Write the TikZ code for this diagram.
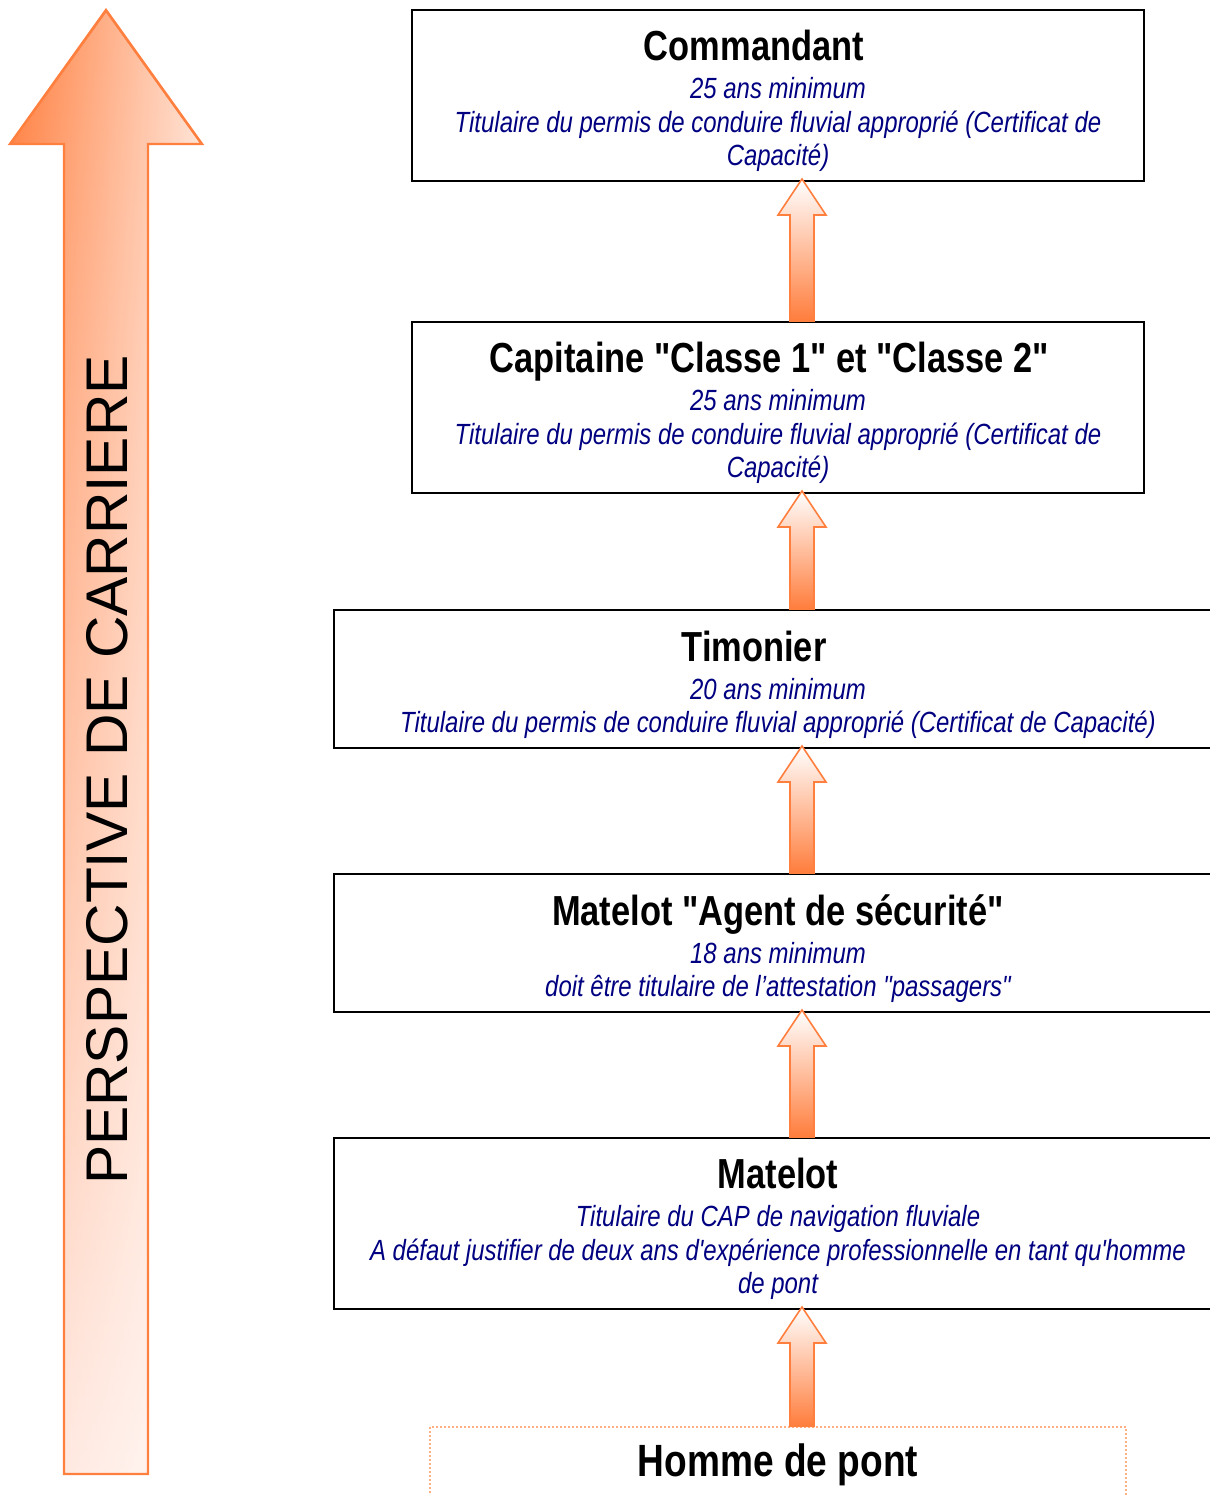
\documentclass[tikz,border=0pt]{standalone}
\usepackage{fontspec}
\setmainfont{Liberation Sans}
\newfontfamily\narrowfont{Liberation Sans}[FakeStretch=0.82]
\usetikzlibrary{positioning, calc, fadings}

\definecolor{orangeline}{RGB}{255,127,63}
\definecolor{orangefill}{RGB}{255,125,60}
\definecolor{paleorange}{RGB}{255,228,218}
\definecolor{dotorange}{RGB}{255,175,130}
\definecolor{navytext}{RGB}{0,0,128}

\newcommand\posttitle{\color{black}\upshape\bfseries\fontsize{21}{25}\selectfont\rule{0pt}{21pt}}

\tikzfading[name=fadeleft, left color=transparent!100, right color=transparent!22]

\tikzset{
  poste/.style={draw, line width=1pt, inner sep=0pt, align=center, text=navytext,
    font=\narrowfont\itshape\fontsize{14.6}{16.75}\selectfont},
  upshade/.style={top color=white, middle color=orangefill!30!white, bottom color=orangefill,
    draw=orangeline, line width=0.8pt},
}

\begin{document}
\begin{tikzpicture}[x=0.5pt, y=-0.5pt]

\useasboundingbox (0,0) rectangle (1210,1495);
\clip (0,0) rectangle (1210,1495);

% big arrow
\shade[top color=orangefill, bottom color=paleorange,
  postaction={fill=white, path fading=fadeleft, fit fading=true},
  postaction={draw=orangeline, line width=1.2pt}]
  (106,10) -- (202,144) -- (148,144) -- (148,1474) -- (64,1474) -- (64,144) -- (10,144) -- cycle;
\node[rotate=90, font=\fontsize{29.4}{34}\selectfont] (perspective) at (107,770) {PERSPECTIVE DE CARRIERE};

% postes
\node[poste, minimum width=366pt, minimum height=85.5pt] (commandant) at (778,95.5)
  {{\posttitle Commandant\hspace*{24pt}}\\[2.25pt]
   25 ans minimum\\
   Titulaire du permis de conduire fluvial approprié (Certificat de\\
   Capacité)};
\node[poste, minimum width=366pt, minimum height=85.5pt] (capitaine) at (778,407.5)
  {{\posttitle Capitaine "Classe 1" et "Classe 2"\hspace*{8.5pt}}\\[2.25pt]
   25 ans minimum\\
   Titulaire du permis de conduire fluvial approprié (Certificat de\\
   Capacité)};
\node[poste, minimum width=444pt, minimum height=69pt] (timonier) at (778,679)
  {{\posttitle Timonier\hspace*{24pt}}\\[2.25pt]
   20 ans minimum\\
   Titulaire du permis de conduire fluvial approprié (Certificat de Capacité)};
\node[poste, minimum width=444pt, minimum height=69pt] (securite) at (778,943)
  {{\posttitle Matelot "Agent de sécurité"}\\[2.25pt]
   18 ans minimum\\
   doit être titulaire de l’attestation "passagers"};
\node[poste, minimum width=444pt, minimum height=85.5pt] (matelot) at (778,1223.5)
  {{\posttitle Matelot}\\[2.25pt]
   Titulaire du CAP de navigation fluviale\\
   A défaut justifier de deux ans d'expérience professionnelle en tant qu'homme\\
   de pont};
\node[poste, draw=dotorange, densely dotted, line width=0.6pt, minimum width=348pt, minimum height=38pt] (homme) at (778,1465)
  {\color{black}\upshape\bfseries\fontsize{22.6}{26}\selectfont Homme de pont};

% arrows
\coordinate (ax) at (802,0);
\foreach \lo/\hi in {capitaine/commandant, timonier/capitaine, securite/timonier, matelot/securite, homme/matelot}
  \shade[upshade] let \p1=(\lo.north -| ax), \p2=(\hi.south -| ax) in
    (\x2,\y2+1.5pt) -- (\x2+12pt,\y2-16.5pt) -- (\x2+6pt,\y2-16.5pt) -- (\x1+6pt,\y1)
    -- (\x1-6pt,\y1) -- (\x2-6pt,\y2-16.5pt) -- (\x2-12pt,\y2-16.5pt) -- cycle;

\end{tikzpicture}
\end{document}
